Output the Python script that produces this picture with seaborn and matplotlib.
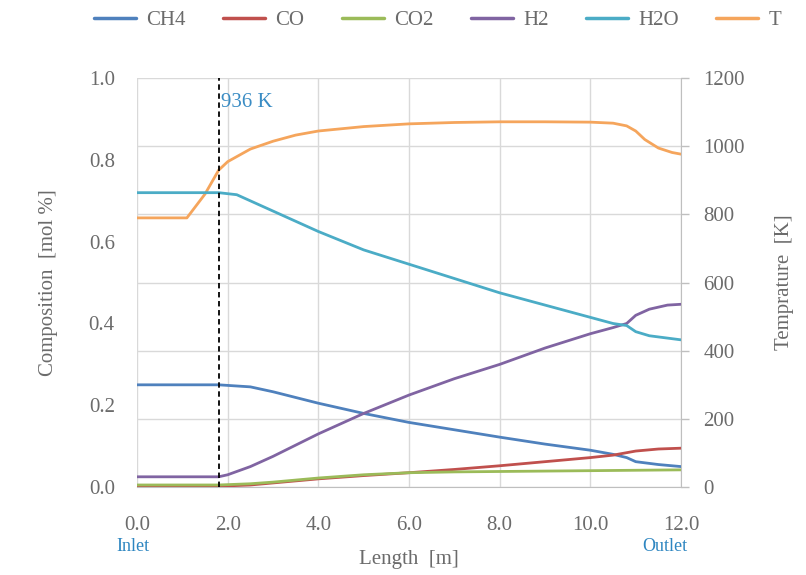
import numpy as np
import pandas as pd
import matplotlib
matplotlib.use("Agg")
import matplotlib.pyplot as plt
from matplotlib.lines import Line2D
import seaborn as sns

# ---------------- data ----------------
x_ch4 = [0, 1.8, 2.5, 3, 4, 5, 6, 7, 8, 9, 10, 10.5, 10.8, 11, 11.5, 12]
ch4   = [0.25, 0.25, 0.245, 0.233, 0.205, 0.18, 0.158, 0.14, 0.122, 0.105, 0.09, 0.08, 0.072, 0.062, 0.055, 0.05]

x_co = [0, 1.8, 2.5, 3, 4, 5, 6, 7, 8, 9, 10, 10.5, 11, 11.5, 12]
co   = [0.002, 0.002, 0.005, 0.01, 0.02, 0.028, 0.035, 0.043, 0.052, 0.062, 0.072, 0.078, 0.088, 0.093, 0.095]

x_co2 = [0, 1.8, 2.5, 3, 4, 5, 6, 7, 8, 9, 10, 11, 12]
co2   = [0.005, 0.005, 0.008, 0.012, 0.022, 0.03, 0.035, 0.037, 0.038, 0.039, 0.04, 0.041, 0.042]

x_h2 = [0, 1.8, 2.0, 2.5, 3, 4, 5, 6, 7, 8, 9, 10, 10.5, 10.8, 11, 11.3, 11.7, 12]
h2   = [0.025, 0.025, 0.03, 0.05, 0.075, 0.13, 0.18, 0.225, 0.265, 0.30, 0.34, 0.375, 0.39, 0.40, 0.42, 0.435, 0.445, 0.447]

x_h2o = [0, 1.8, 2.2, 2.5, 3, 4, 5, 6, 7, 8, 9, 10, 10.5, 10.8, 11, 11.3, 12]
h2o   = [0.72, 0.72, 0.715, 0.70, 0.675, 0.625, 0.58, 0.545, 0.51, 0.475, 0.445, 0.415, 0.40, 0.395, 0.38, 0.37, 0.36]

x_t = [0, 1.1, 1.5, 1.8, 2.0, 2.5, 3, 3.5, 4, 5, 6, 7, 8, 9, 10, 10.5, 10.8, 11, 11.2, 11.5, 11.8, 12]
temp = [790, 790, 860, 930, 955, 992, 1015, 1033, 1045, 1058, 1066, 1070, 1072, 1072, 1071, 1068, 1060, 1045, 1020, 995, 982, 977]

species = ["CH4", "CO", "CO2", "H2", "H2O", "T"]
colors = ["#4f81bd", "#c0504d", "#9bbb59", "#8064a2", "#4bacc6", "#f5a55c"]
x_ticks = [0.0, 2.0, 4.0, 6.0, 8.0, 10.0, 12.0]
y_ticks = [0.0, 0.2, 0.4, 0.6, 0.8, 1.0]
t_ticks = [0, 200, 400, 600, 800, 1000, 1200]
marker_x = 1.8
marker_label = "936 K"

# ---------------- build frames ----------------
comp_series = [("CH4", x_ch4, ch4), ("CO", x_co, co), ("CO2", x_co2, co2),
               ("H2", x_h2, h2), ("H2O", x_h2o, h2o)]
df_comp = pd.concat([pd.DataFrame({"Length": xs, "Value": ys, "Species": name})
                     for name, xs, ys in comp_series], ignore_index=True)
df_t = pd.DataFrame({"Length": x_t, "Value": temp, "Species": "T"})
palette = dict(zip(species, colors))

# ---------------- plot ----------------
sns.set_style("white")
plt.rcParams["font.family"] = ["Liberation Serif", "DejaVu Serif"]
text_gray = "#6b6b6b"
grid_gray = "#d9d9d9"

fig = plt.figure(figsize=(8.06, 5.75), dpi=100)
ax = fig.add_axes([0.170, 0.153, 0.675, 0.711])
ax2 = ax.twinx()

sns.lineplot(data=df_t, x="Length", y="Value", color=palette["T"], lw=2.0, ax=ax2, legend=False)
sns.lineplot(data=df_comp, x="Length", y="Value", hue="Species", palette=palette,
             hue_order=species[:-1], lw=2.0, ax=ax, legend=False)

ax.set_zorder(ax2.get_zorder() + 1)
ax.patch.set_visible(False)

ax.set_xlim(0, 12)
ax.set_ylim(0, 1.0)
ax2.set_ylim(0, 1200)
ax.set_xticks(x_ticks)
ax.set_xticklabels([f"{v:.1f}" for v in x_ticks])
ax.set_yticks(y_ticks)
ax.set_yticklabels([f"{v:.1f}" for v in y_ticks])
ax2.set_yticks(t_ticks)
ax2.set_yticklabels([str(v) for v in t_ticks])

# grid drawn on the background axes
ax2.set_xticks(x_ticks)
for v in x_ticks:
    ax2.axvline(v, color=grid_gray, lw=1.0, zorder=0)
for v in t_ticks:
    ax2.axhline(v, color=grid_gray, lw=1.0, zorder=0)

for a in (ax, ax2):
    for s in a.spines.values():
        s.set_visible(False)
ax2.spines["right"].set_visible(True)
ax2.spines["right"].set_color("#bfbfbf")
ax2.spines["bottom"].set_visible(True)
ax2.spines["bottom"].set_color("#bfbfbf")

ax.tick_params(axis="both", length=0, labelsize=15, colors=text_gray)
ax.tick_params(axis="x", pad=21)
ax.tick_params(axis="y", pad=16)
ax2.tick_params(axis="y", length=6, width=1, color="#bfbfbf", labelsize=15,
                colors=text_gray, pad=10, direction="out")
ax2.tick_params(axis="x", length=0, labelbottom=False)

ax.set_xlabel("Length  [m]", fontsize=15, color=text_gray, labelpad=11)
ax.set_ylabel("Composition  [mol %]", fontsize=15, color=text_gray, labelpad=22)
ax2.set_ylabel("Temprature  [K]", fontsize=15, color=text_gray, labelpad=22)

# dashed marker line
ax.axvline(marker_x, color="black", lw=1.3, ls=(0, (3, 2)), zorder=5)
ax.text(marker_x + 0.05, 0.94, marker_label, color="#3a8cc4", fontsize=15,
        ha="left", va="center")

# inlet / outlet labels
ax.text(-0.08, -0.145, "Inlet", color="#2e86c1", fontsize=13, ha="center", va="center",
        transform=ax.get_xaxis_transform())
ax.text(11.65, -0.145, "Outlet", color="#2e86c1", fontsize=13, ha="center", va="center",
        transform=ax.get_xaxis_transform())

# legend
handles = [Line2D([0], [0], color=palette[s], lw=2.5) for s in species]
fig.legend(handles, species, loc="center", bbox_to_anchor=(0.543, 0.965), ncol=6,
           frameon=False, fontsize=15, handlelength=2.0, columnspacing=1.8,
           handletextpad=0.5, labelcolor=text_gray)

fig.savefig("out.png", dpi=100)
